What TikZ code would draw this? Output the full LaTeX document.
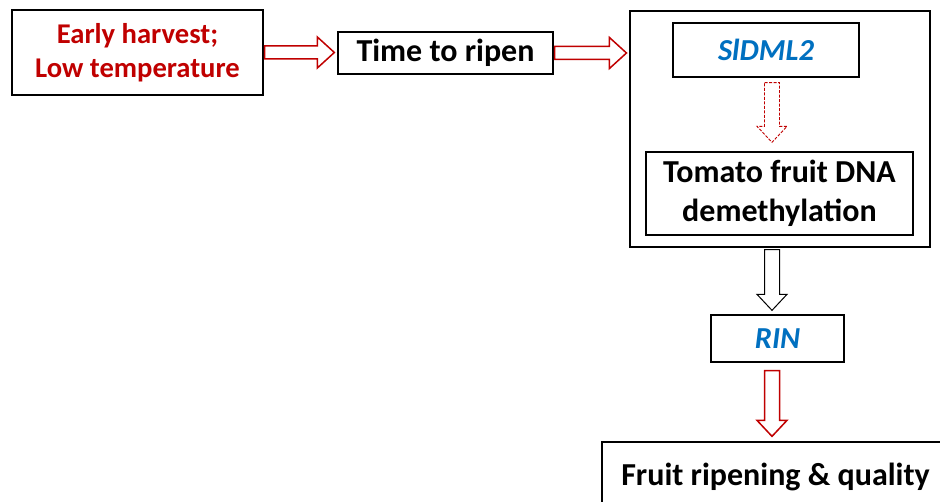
\documentclass[tikz,border=0pt]{standalone}
\usepackage{fontspec}
\setmainfont{Carlito}
\usetikzlibrary{calc}
\definecolor{ripered}{RGB}{192,0,0}
\definecolor{geneblue}{RGB}{0,112,192}

% block arrow, left to right, between two nodes
\newcommand{\rightblock}[3]{
  \draw[#1] let \p1=(#2.east), \p2=(#3.west) in
    (\x1+1pt,\y1+6.5pt) -- (\x2-20pt,\y1+6.5pt) -- (\x2-20pt,\y1+15.5pt) --
    (\x2-3pt,\y1) -- (\x2-20pt,\y1-15.5pt) -- (\x2-20pt,\y1-6.5pt) --
    (\x1+1pt,\y1-6.5pt) -- cycle;
}
% block arrow, top to bottom, on the spine; #4, #5 = gaps
\newcommand{\downblock}[5]{
  \draw[#1] let \p1=(#2.south), \p2=(#3.north), \p3=(spine) in
    (\x3-7.5pt,\y1-#4) -- (\x3+7.5pt,\y1-#4) -- (\x3+7.5pt,\y2+#5+16pt) --
    (\x3+15pt,\y2+#5+16pt) -- (\x3,\y2+#5) -- (\x3-15pt,\y2+#5+16pt) --
    (\x3-7.5pt,\y2+#5+16pt) -- cycle;
}

\begin{document}
\begin{tikzpicture}[x=1pt,y=-1pt]

%
% Styles
%
\tikzstyle{box} = [rectangle,draw=black,line width=1.3pt,fill=white,inner sep=0pt,align=center,font=\fontsize{32}{39}\selectfont\bfseries]
\tikzstyle{gene} = [box,text=geneblue,font=\fontsize{30.5}{37}\selectfont\bfseries\itshape]
\tikzstyle{redflow} = [draw=ripered,line width=1.5pt,fill=white]
\tikzstyle{blackflow} = [draw=black,line width=1pt,fill=white]
\tikzstyle{dashflow} = [draw=ripered,line width=0.9pt,dash pattern=on 3pt off 1.5pt,fill=white]

\useasboundingbox (0,0) rectangle (940,502);
\clip (0,0) rectangle (940,502);

\coordinate (spine) at (772,0);

\node[box,text=ripered,font=\fontsize{28.6}{34}\selectfont\bfseries,minimum width=251,minimum height=85] (cond) at (137.5,52.5) {Early harvest;\\Low temperature};
\node[box,minimum width=215,minimum height=42] (time) at (445.5,53) {Time to ripen};
\node[rectangle,draw=black,line width=1.1pt,minimum width=300,minimum height=236] (demeth) at (780,129) {};
\node[gene,minimum width=186,minimum height=54] (dml) at (766,50) {SlDML2};
\node[box,minimum width=267,minimum height=83] (dna) at (779.5,193.5) {Tomato fruit DNA\\demethylation};
\node[gene,minimum width=133,minimum height=47] (rin) at (777.5,338.5) {RIN};
\node[box,minimum width=347,minimum height=70] (fruit) at (775.5,477) {Fruit ripening \& quality};

\rightblock{redflow}{cond}{time}
\rightblock{redflow}{time}{demeth}
\downblock{dashflow}{dml}{dna}{5pt}{9pt}
\downblock{blackflow}{demeth}{rin}{2pt}{4pt}
\downblock{redflow}{rin}{fruit}{8pt}{5pt}

\end{tikzpicture}
\end{document}
